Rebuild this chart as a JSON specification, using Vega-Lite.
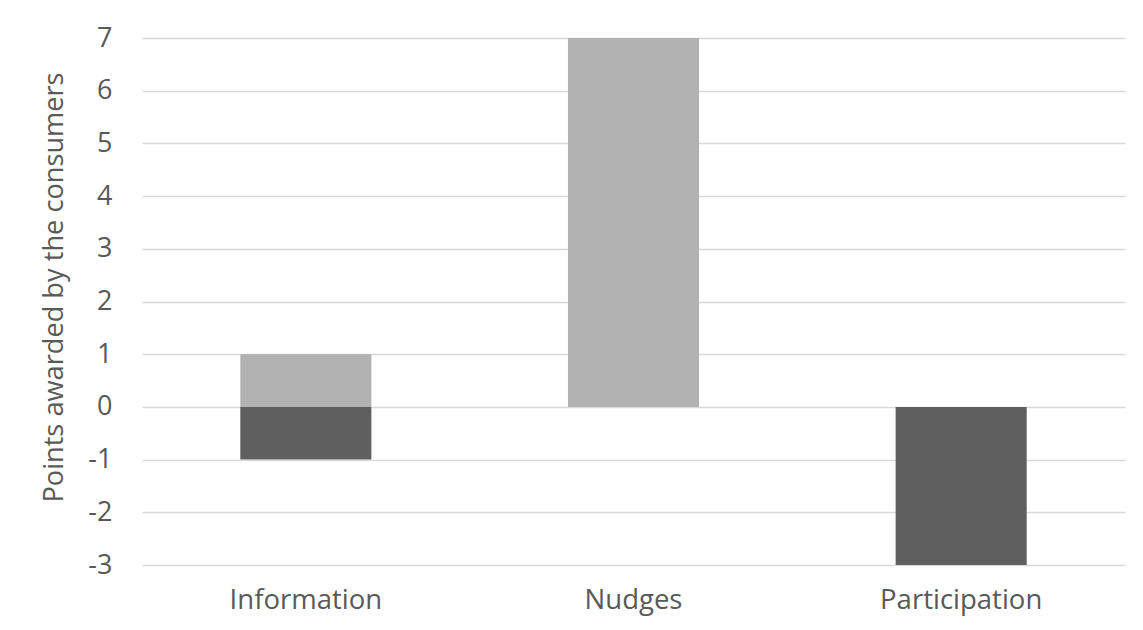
{
  "$schema": "https://vega.github.io/schema/vega-lite/v6.json",
  "width": 983,
  "height": 527,
  "autosize": {"type": "none"},
  "padding": {"left": 142, "top": 38, "right": 18, "bottom": 65},
  "background": "white",
  "data": {
    "values": [
      {"category": "Information", "series": "Positive", "points": 1},
      {"category": "Information", "series": "Negative", "points": -1},
      {"category": "Nudges", "series": "Positive", "points": 7},
      {"category": "Nudges", "series": "Negative", "points": 0},
      {"category": "Participation", "series": "Positive", "points": 0},
      {"category": "Participation", "series": "Negative", "points": -3}
    ]
  },
  "mark": {"type": "bar"},
  "encoding": {
    "x": {
      "field": "category",
      "type": "nominal",
      "sort": ["Information", "Nudges", "Participation"],
      "scale": {"paddingInner": 0.6, "paddingOuter": 0.3},
      "axis": {
        "title": null,
        "labelAngle": 0,
        "domain": false,
        "ticks": false,
        "labelFont": "Open Sans",
        "labelFontSize": 27.5,
        "labelColor": "#595959",
        "labelPadding": 21
      }
    },
    "y": {
      "field": "points",
      "type": "quantitative",
      "stack": "zero",
      "scale": {"domain": [-3, 7], "nice": false, "zero": false},
      "axis": {
        "title": "Points awarded by the consumers",
        "titleFont": "Open Sans",
        "titleFontSize": 27.2,
        "titleFontWeight": "normal",
        "titleColor": "#595959",
        "titleX": -80,
        "titleY": 249,
        "titleBaseline": "alphabetic",
        "values": [-3, -2, -1, 0, 1, 2, 3, 4, 5, 6, 7],
        "labelExpr": "toString(datum.value)",
        "domain": false,
        "ticks": false,
        "grid": true,
        "gridColor": "#d9d9d9",
        "gridWidth": 1.5,
        "labelFont": "Open Sans",
        "labelFontSize": 27,
        "labelColor": "#595959",
        "labelPadding": 30
      }
    },
    "color": {
      "field": "series",
      "type": "nominal",
      "scale": {"domain": ["Positive", "Negative"], "range": ["#b2b2b2", "#5f5f5f"]},
      "legend": null
    }
  },
  "config": {"view": {"stroke": null}}
}
